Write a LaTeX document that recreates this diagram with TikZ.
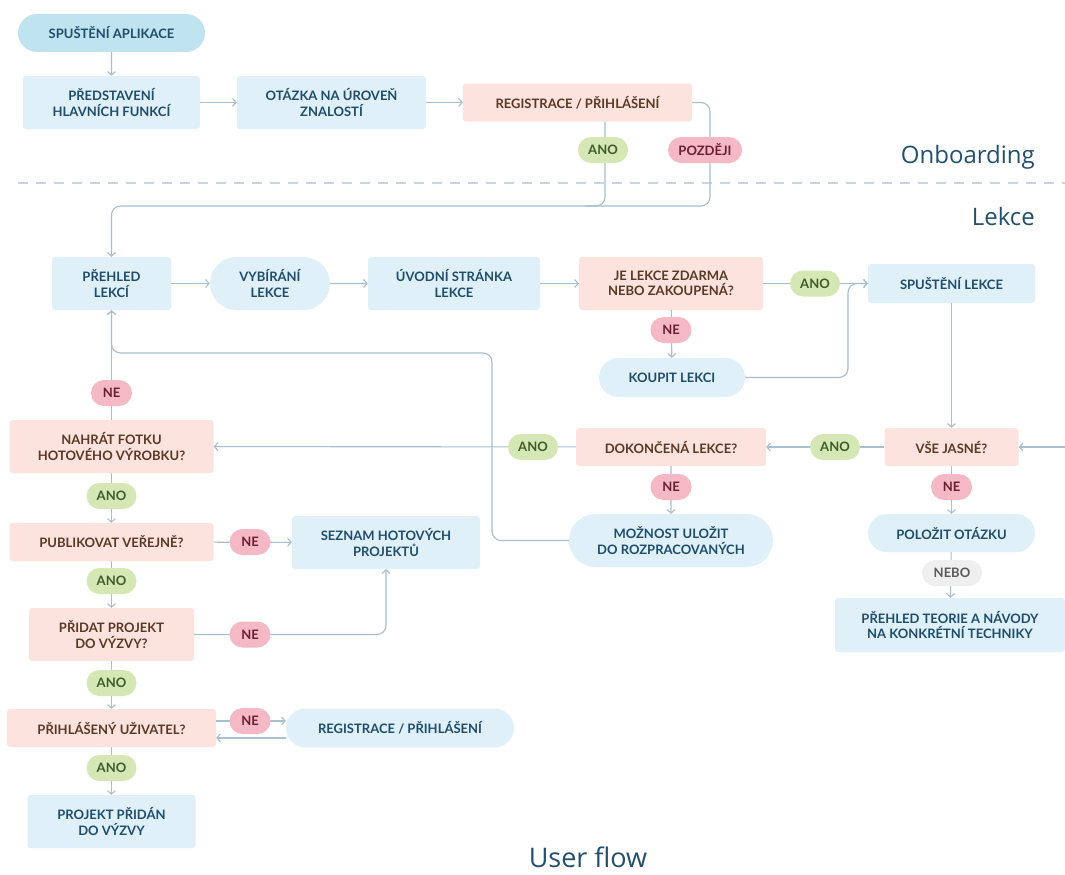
\documentclass[tikz,border=0pt]{standalone}
\usepackage{fontspec}
\setmainfont{Lato}
\newfontfamily\titlefont{Open Sans}
\usetikzlibrary{shapes.misc,arrows.meta,calc}
\definecolor{lineC}{HTML}{A7BFD0}
\definecolor{blueF}{HTML}{DFF0F8}
\definecolor{blueD}{HTML}{BFE3EF}
\definecolor{blueT}{HTML}{1E4D6B}
\definecolor{oraF}{HTML}{FCE3DD}
\definecolor{oraT}{HTML}{5A3826}
\definecolor{anoF}{HTML}{D6E7B6}
\definecolor{anoT}{HTML}{3F5B2B}
\definecolor{neF}{HTML}{F4B9C5}
\definecolor{neT}{HTML}{6B1E30}
\definecolor{neboF}{HTML}{EFEFEF}
\definecolor{neboT}{HTML}{5A5A5A}
\definecolor{titleC}{HTML}{24506E}
\definecolor{dashC}{HTML}{C8D6E0}
\begin{document}
\begin{tikzpicture}[x=1pt,y=-1pt,
 txt/.style={font=\fontsize{13}{15.5}\selectfont\bfseries, align=center, inner sep=0pt},
 sz/.style 2 args={minimum width=#1pt, minimum height=#2pt},
 bluebox/.style={txt, rectangle, rounded corners=3pt, fill=blueF, text=blueT},
 bluepill/.style={txt, rounded rectangle, fill=blueF, text=blueT},
 orabox/.style={txt, rectangle, rounded corners=3pt, fill=oraF, text=oraT},
 lab/.style={txt, rounded rectangle, minimum height=26pt},
 ano/.style={lab, fill=anoF, text=anoT, minimum width=50pt},
 ne/.style={lab, fill=neF, text=neT, minimum width=41pt},
 conn/.style={draw=lineC, line width=1.1pt, rounded corners=9pt, -{Straight Barb[length=3.5pt,width=8pt]}},
 plainc/.style={draw=lineC, line width=1.1pt, rounded corners=9pt},
 ttl/.style={font=\titlefont\fontsize{24}{28}\selectfont, text=titleC, inner sep=0pt},
]
\useasboundingbox (0,0) rectangle (1065,875);
\fill[white] (0,0) rectangle (1065,875);

% ---------- Onboarding ----------
\node[bluepill, sz={187}{38}, fill=blueD] (app) at (111.5,33) {SPUŠTĚNÍ APLIKACE};
\node[bluebox, sz={177}{53}] (pred) at (111.5,102.5) {PŘEDSTAVENÍ\\HLAVNÍCH FUNKCÍ};
\node[bluebox, sz={189}{53}] (ot) at (331.5,102.5) {OTÁZKA NA ÚROVEŇ\\ZNALOSTÍ};
\node[orabox, sz={229}{38}] (reg1) at (577.5,102.5) {REGISTRACE / PŘIHLÁŠENÍ};

\node[ttl, anchor=east] (tonb) at (1035,157) {Onboarding};
\node[ttl, anchor=east] (tlek) at (1035,216) {Lekce};
\coordinate (dl) at (18,183);
\coordinate (dr) at (1065,183);
\draw[dashC, line width=1.2pt, dash pattern=on 10pt off 8pt] (dl) -- (dr);

% ---------- Lekce ----------
\node[bluebox, sz={119}{53}] (preh) at (111.5,283.5) {PŘEHLED\\LEKCÍ};
\node[bluepill, sz={120}{53}] (vyb) at (270,283.5) {VYBÍRÁNÍ\\LEKCE};
\node[bluebox, sz={172}{53}] (uvod) at (454,283.5) {ÚVODNÍ STRÁNKA\\LEKCE};
\node[orabox, sz={184}{53}] (jel) at (671,283.5) {JE LEKCE ZDARMA\\NEBO ZAKOUPENÁ?};
\node[bluebox, sz={167}{39}] (spust) at (951.5,283.5) {SPUŠTĚNÍ LEKCE};
\node[bluepill, sz={146}{39}] (koup) at (672,377.5) {KOUPIT LEKCI};
\node[orabox, sz={134}{38}] (vse) at (951.5,447) {VŠE JASNÉ?};
\node[orabox, sz={190}{38}] (dok) at (671,447) {DOKONČENÁ LEKCE?};
\node[orabox, sz={204}{53}] (nahr) at (111.5,446.5) {NAHRÁT FOTKU\\HOTOVÉHO VÝROBKU?};
\node[bluepill, sz={204}{53}] (mozn) at (671,540.5) {MOŽNOST ULOŽIT\\DO ROZPRACOVANÝCH};
\node[bluepill, sz={167}{38}] (polo) at (951.5,533) {POLOŽIT OTÁZKU};
\node[bluebox, sz={230}{54}] (teor) at (950,625) {PŘEHLED TEORIE A NÁVODY\\NA KONKRÉTNÍ TECHNIKY};
\node[orabox, sz={204}{38}] (publ) at (111.5,542) {PUBLIKOVAT VEŘEJNĚ?};
\node[bluebox, sz={188}{53}] (sezn) at (386,542.5) {SEZNAM HOTOVÝCH\\PROJEKTŮ};
\node[orabox, sz={165}{53}] (prid) at (111.5,634.5) {PŘIDAT PROJEKT\\DO VÝZVY?};
\node[orabox, sz={209}{38}] (prih) at (111.5,728) {PŘIHLÁŠENÝ UŽIVATEL?};
\node[bluepill, sz={228}{39}] (reg2) at (400,728) {REGISTRACE / PŘIHLÁŠENÍ};
\node[bluebox, sz={168}{53}] (proj) at (111.5,821.5) {PROJEKT PŘIDÁN\\DO VÝZVY};

\node[ttl, font=\titlefont\fontsize{27}{30}\selectfont] (tuf) at (588,857) {User flow};

% ---------- connectors ----------
\coordinate (j1) at (605,206);
\coordinate (j2) at (710,206);
\coordinate (j3) at (585,206);
\coordinate (k1) at (848,377.5);
\coordinate (m1) at (492,353);
\coordinate (s1) at (386,634.5);
\coordinate (edge) at (1065,447);

\draw[conn] (app) -- (pred);
\draw[conn] (pred) -- (ot);
\draw[conn] (ot) -- (reg1);
\draw[conn] (reg1.south -| j1) -- (j1) -- (j1 -| preh) -- (preh.north);
\draw[plainc] (reg1.east) -- (reg1.east -| j2) -- (j2) -- (j3);
\draw[conn] (preh) -- (vyb);
\draw[conn] (vyb) -- (uvod);
\draw[conn] (uvod) -- (jel);
\draw[conn] (jel) -- (spust);
\draw[conn] (jel) -- (koup);
\draw[conn] (koup.east) -- (k1) -- (k1 |- spust) -- (spust.west);
\draw[conn] (spust) -- (vse);
\draw[conn] (edge) -- (vse.east);
\draw[conn] (vse) -- (dok);
\draw[conn] (dok) -- (nahr);
\draw[conn] (dok) -- (mozn);
\draw[conn] (vse) -- (polo);
\draw[conn] (polo) -- (teor);
\draw[conn] (mozn.west) -- (m1 |- mozn) -- (m1) -- (m1 -| preh) -- (preh.south);
\draw[conn] (nahr) -- (preh);
\draw[conn] (nahr) -- (publ);
\draw[conn] (publ) -- (sezn);
\draw[conn] (publ) -- (prid);
\draw[conn] (prid.east) -- (s1) -- (sezn.south);
\draw[conn] (prid) -- (prih);
\draw[conn] ([yshift=7pt]prih.east) -- ([yshift=7pt]prih.east -| reg2.west);
\draw[conn] ([yshift=-10pt]reg2.west) -- ([yshift=-10pt]reg2.west -| prih.east);
\draw[conn] (prih) -- (proj);

% ---------- labels ----------
\node[ano] (l1) at (603,150) {ANO};
\node[ne, minimum width=74pt] (l2) at (705,150) {POZDĚJI};
\node[ano] (l3) at (815,283.5) {ANO};
\node[ne] (l4) at (671,330) {NE};
\node[ano] (l5) at (835,447) {ANO};
\node[ano] (l6) at (533,447) {ANO};
\node[ne] (l7) at (671,487) {NE};
\node[ne] (l8) at (951.5,487) {NE};
\node[lab, fill=neboF, text=neboT, minimum width=60pt] (l9) at (952,573) {NEBO};
\node[ne] (l10) at (111.5,393) {NE};
\node[ano] (l11) at (111.5,496) {ANO};
\node[ne] (l12) at (250,542) {NE};
\node[ano] (l13) at (111.5,581) {ANO};
\node[ne] (l14) at (250,634.5) {NE};
\node[ano] (l15) at (111.5,683) {ANO};
\node[ne] (l16) at (250,721) {NE};
\node[ano] (l17) at (111.5,768) {ANO};
\end{tikzpicture}
\end{document}
